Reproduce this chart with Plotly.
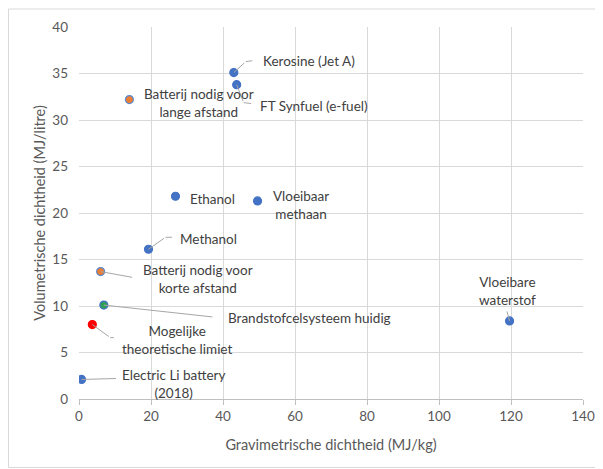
import plotly.graph_objects as go

# ---- data ----
blue_names = ["Kerosine (Jet A)", "FT Synfuel (e-fuel)", "Ethanol", "Vloeibaar<br>methaan",
              "Methanol", "Electric Li battery<br>(2018)", "Vloeibare<br>waterstof"]
blue_x = [43.0, 43.8, 26.8, 49.6, 19.3, 0.7, 119.6]
blue_y = [35.1, 33.8, 21.8, 21.3, 16.1, 2.1, 8.4]

orange_names = ["Batterij nodig voor<br>lange afstand", "Batterij nodig voor<br>korte afstand"]
orange_x = [14.0, 6.0]
orange_y = [32.2, 13.7]

green_names = ["Brandstofcelsysteem huidig"]
green_x = [6.9]
green_y = [10.1]

red_names = ["Mogelijke<br>theoretische limiet"]
red_x = [3.7]
red_y = [8.0]

x_title = "Gravimetrische dichtheid (MJ/kg)"
y_title = "Volumetrische dichtheid (MJ/litre)"

# ---- label styles (pixel offsets from point: text pos, anchor, leader polyline) ----
label_style = {
    "Kerosine (Jet A)": dict(dx=27, dy=-12, anchor="left", leader=[(0, 0), (12, -11), (20, -12)]),
    "FT Synfuel (e-fuel)": dict(dx=21, dy=21, anchor="left", leader=[(0, 0), (7, 18), (16, 19)]),
    "Ethanol": dict(dx=37, dy=3, anchor="center", leader=None),
    "Vloeibaar<br>methaan": dict(dx=43, dy=4, anchor="center", leader=None),
    "Methanol": dict(dx=30, dy=-10, anchor="left", leader=[(0, 0), (17, -12), (25, -12)]),
    "Electric Li battery<br>(2018)": dict(dx=92, dy=5, anchor="center", leader=[(0, 0), (36, -1)]),
    "Vloeibare<br>waterstof": dict(dx=-2, dy=-30, anchor="center", leader=[(0, 0), (-3, -11)]),
    "Batterij nodig voor<br>lange afstand": dict(dx=70, dy=3, anchor="center", leader=None),
    "Batterij nodig voor<br>korte afstand": dict(dx=97, dy=7, anchor="center", leader=[(0, 0), (33, 6)]),
    "Brandstofcelsysteem huidig": dict(dx=122, dy=13, anchor="left", leader=[(0, 0), (110, 12)]),
    "Mogelijke<br>theoretische limiet": dict(dx=85, dy=15, anchor="center", leader=[(0, 0), (18, 13), (23, 13)]),
}

FONT = "Lato"
LEADER = "#A6A6A6"
TEXT = "#404040"

W, H = 595, 461
L, R, T, B = 71, 20, 19, 70
PW, PH = W - L - R, H - T - B

fig = go.Figure()

series = [
    (blue_names, blue_x, blue_y, "#4472C4", "#4472C4"),
    (orange_names, orange_x, orange_y, "#ED7D31", "#5B8BD0"),
    (green_names, green_x, green_y, "#2E9E5B", "#4472C4"),
    (red_names, red_x, red_y, "#FF0000", "#FF0000"),
]

annotations = []
for names, xs, ys, col, edge in series:
    fig.add_trace(go.Scatter(
        x=xs, y=ys, mode="markers",
        marker=dict(size=8, color=col, line=dict(color=edge, width=1.2)),
        showlegend=False, hoverinfo="skip"))
    for n, x, y in zip(names, xs, ys):
        st = label_style[n]
        if st["leader"]:
            pts = st["leader"]
            for (x0, y0), (x1, y1) in zip(pts[:-1], pts[1:]):
                annotations.append(dict(
                    x=x, y=y, xref="x", yref="y", text="",
                    xshift=x0, yshift=-y0,
                    showarrow=True, arrowhead=0, arrowwidth=1, arrowcolor=LEADER,
                    ax=x1 - x0, ay=y1 - y0, axref="pixel", ayref="pixel",
                    standoff=0, startstandoff=0))
        annotations.append(dict(
            x=x, y=y, xref="x", yref="y", text=n, showarrow=False,
            xshift=st["dx"], yshift=-st["dy"], xanchor=st["anchor"], yanchor="middle",
            align="center", font=dict(family=FONT, size=13.5, color=TEXT)))

fig.update_layout(
    width=W, height=H,
    margin=dict(l=L, r=R, t=T, b=B, autoexpand=False),
    paper_bgcolor="white", plot_bgcolor="white",
    annotations=annotations,
    font=dict(family=FONT, size=13, color="#595959"),
    shapes=[dict(type="rect", xref="paper", yref="paper",
                 x0=-(L - 0.5) / PW, x1=(PW + R + 5) / PW,
                 y0=-(B - 1.5) / PH, y1=(PH + T - 1) / PH,
                 line=dict(color="#D9D9D9", width=1), layer="below")],
    xaxis=dict(range=[0, 140], dtick=20, showgrid=True, gridcolor="#D9D9D9", gridwidth=1,
               zeroline=False, showline=True, linecolor="#BFBFBF", linewidth=1,
               ticks="outside", ticklen=5, tickcolor="#BFBFBF",
               tickfont=dict(family=FONT, size=13.5, color="#595959"),
               automargin=False,
               title=dict(text=x_title, font=dict(family=FONT, size=14.5, color="#595959"), standoff=16)),
    yaxis=dict(range=[0, 40], dtick=5, showgrid=True, gridcolor="#D9D9D9", gridwidth=1,
               zeroline=False, showline=False, ticks="", ticklabelstandoff=10,
               tickfont=dict(family=FONT, size=13.5, color="#595959"),
               automargin=False,
               title=dict(text=y_title, font=dict(family=FONT, size=14.5, color="#595959"), standoff=3)),
)

fig.write_html("out.html")
